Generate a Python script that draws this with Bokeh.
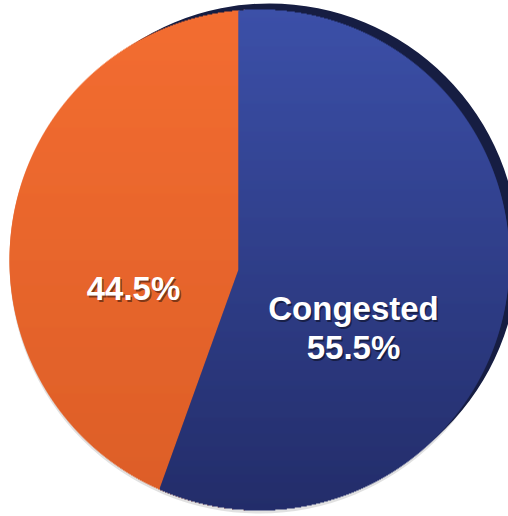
import numpy as np
from bokeh.plotting import figure
from bokeh.models import ColumnDataSource, Range1d
from bokeh.core.properties import value
from bokeh.embed import file_html
from bokeh.resources import INLINE

# ---- data ----
categories = ["Not congested", "Congested"]
shares = [44.5, 55.5]
show_name = [False, True]
top_colors = ["#F36D31", "#3C50A8"]
bottom_colors = ["#DC5E27", "#232D6A"]

W, H = 508, 516
# geometry (pixels, y up)
cx, cy, R = 259.0, 256.0, 250.0     # outline of the pie face
vx, vy = 238.0, 246.0               # common vertex of the slices
start_deg = 90.0                    # first slice starts at 12 o'clock, counter-clockwise

p = figure(width=W, height=H, output_backend="svg", toolbar_location=None,
           x_range=Range1d(0, W), y_range=Range1d(0, H),
           min_border=0, outline_line_color=None)
p.axis.visible = False
p.grid.visible = False
p.background_fill_color = "white"
p.border_fill_color = "white"

# soft drop shadow and dark 3D rim behind the face
p.circle(x=[cx], y=[cy - 3], radius=R, fill_color="#888888", fill_alpha=0.25, line_color=None)
p.circle(x=[cx + 10], y=[cy + 8], radius=R - 1, fill_color="#161D42", line_color=None)


def hex2rgb(h):
    h = h.lstrip("#")
    return np.array([int(h[i:i + 2], 16) for i in (0, 2, 4)], dtype=float)


def rgb2hex(c):
    return "#%02x%02x%02x" % tuple(int(round(v)) for v in c)


total = float(sum(shares))
split = np.deg2rad(start_deg + 360.0 * shares[0] / total)
slope = np.cos(split) / np.sin(split)

ys = np.arange(cy - R, cy + R, 1.0)
ym = ys + 0.5
half = np.sqrt(np.clip(R ** 2 - (ym - cy) ** 2, 0, None))
xl = cx - half
xr = cx + half
bnd = np.where(ym >= vy, vx, vx + (ym - vy) * slope)
bnd = np.clip(bnd, xl, xr)
t = (ym - (cy - R)) / (2 * R)

for i, cat in enumerate(categories):
    c0 = hex2rgb(bottom_colors[i])
    c1 = hex2rgb(top_colors[i])
    cols = [rgb2hex(c0 + (c1 - c0) * tt) for tt in t]
    if i == 0:
        left, right = xl, np.minimum(bnd + 1.0, xr)
    else:
        left, right = bnd, xr
    keep = right - left > 0.01
    src = ColumnDataSource(dict(left=left[keep], right=right[keep], bottom=ys[keep],
                                top=ys[keep] + 2.0, color=np.array(cols)[keep]))
    p.quad(left="left", right="right", bottom="bottom", top="top", source=src,
           fill_color="color", line_color=None)

# ---- labels ----
lab_x = [133, 353]
lab_y = [228, 208]
lines_x, lines_y, lines_t = [], [], []
for i, cat in enumerate(categories):
    pct = "%.1f%%" % shares[i]
    if show_name[i]:
        lines_x += [lab_x[i], lab_x[i]]
        lines_y += [lab_y[i], lab_y[i] - 39]
        lines_t += [cat, pct]
    else:
        lines_x.append(lab_x[i])
        lines_y.append(lab_y[i])
        lines_t.append(pct)

shadow = ColumnDataSource(dict(x=[v + 1.5 for v in lines_x], y=[v - 2 for v in lines_y], t=lines_t))
front = ColumnDataSource(dict(x=lines_x, y=lines_y, t=lines_t))
for src, col, alpha in ((shadow, "#000000", 0.45), (front, "#FFFFFF", 1.0)):
    p.text(x="x", y="y", text="t", source=src, text_color=col, text_alpha=alpha,
           text_font=value("Liberation Sans"), text_font_style="bold",
           text_font_size="33px", text_align="center", text_baseline="alphabetic")

open("out.html", "w").write(file_html(p, INLINE))
